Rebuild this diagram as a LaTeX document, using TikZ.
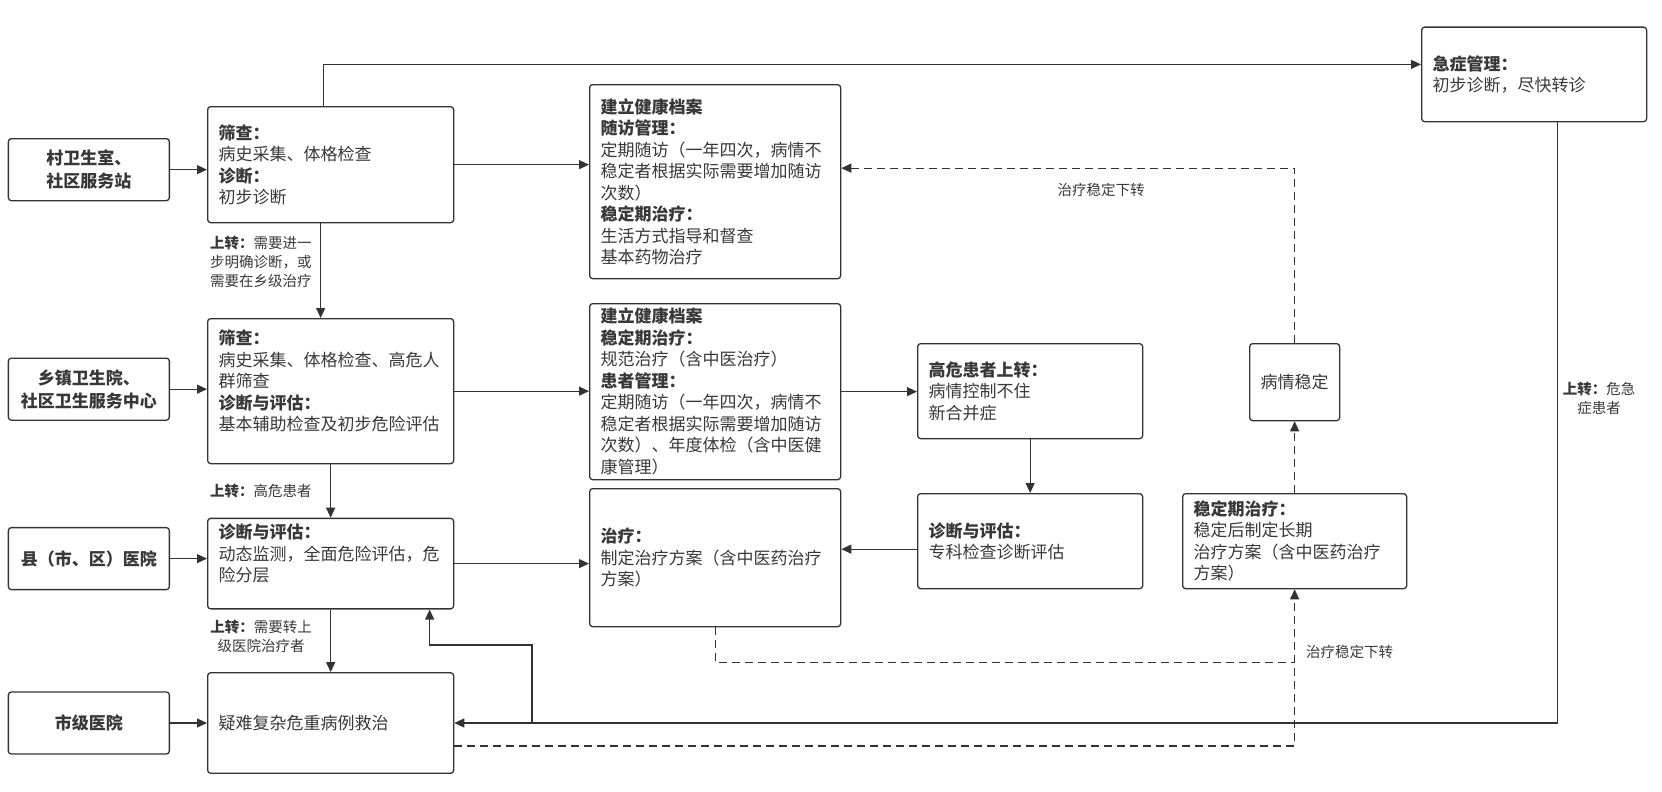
\documentclass[tikz,border=0pt]{standalone}
\usepackage{fontspec}
\setmainfont{Noto Sans CJK SC}
\usetikzlibrary{%
    arrows.meta,
    positioning
}
\definecolor{linegray}{HTML}{333333}
\definecolor{textgray}{HTML}{383838}
\tikzset{headarrow/.style = {-{Triangle[length=10pt,width=9pt]}}}
\tikzset{link/.style = {draw=linegray, line width=1.2pt, headarrow}}
\tikzset{downlink/.style = {link, dash pattern=on 8pt off 5pt}}
\tikzset{box/.style = {draw=linegray, line width=1.3pt, rounded corners=3pt, text=textgray,
    font=\fontsize{17}{21.5}\selectfont, inner xsep=11pt, inner ysep=2pt, align=left}}
\tikzset{site/.style = {box, align=center, font=\fontsize{17}{23}\selectfont\bfseries,
    minimum width=161pt, minimum height=62pt, inner xsep=2pt}}
\tikzset{note/.style = {text=textgray, font=\fontsize{14.5}{19}\selectfont, inner sep=0pt}}

\begin{document}
\begin{tikzpicture}[x=1pt, y=-1pt]
    \useasboundingbox (0,0) rectangle (1662,792);

    \node (a1) [box, anchor=north west, text width=224pt, minimum height=116pt] at (207,106)
        {\textbf{筛查：}\\病史采集、体格检查\\\textbf{诊断：}\\初步诊断};
    \node (a2) [box, below=94.7pt of a1, text width=224pt, minimum height=145pt]
        {\textbf{筛查：}\\病史采集、体格检查、高危人\\群筛查\\\textbf{诊断与评估：}\\基本辅助检查及初步危险评估\\\mbox{}};
    \node (a3) [box, below=53.4pt of a2, text width=224pt, minimum height=90.5pt]
        {\textbf{诊断与评估：}\\动态监测，全面危险评估，危\\险分层\\\mbox{}};
    \node (a4) [box, below=62.6pt of a3, text width=224pt, minimum height=100.5pt]
        {疑难复杂危重病例救治};

    \node (v1) [site, left=37pt of a1, yshift=-5pt] {村卫生室、\\社区服务站};
    \node (v2) [site, left=37pt of a2, yshift=2pt] {乡镇卫生院、\\社区卫生服务中心};
    \node (v3) [site, left=37pt of a3, yshift=5pt] {县（市、区）医院};
    \node (v4) [site, left=37pt of a4] {市级医院};

    \node (b1) [box, anchor=north west, text width=229pt, minimum height=194pt] at (589,84)
        {\textbf{建立健康档案}\\\textbf{随访管理：}\\定期随访（一年四次，病情不\\稳定者根据实际需要增加随访\\次数）\\\textbf{稳定期治疗：}\\生活方式指导和督查\\基本药物治疗};
    \node (b2) [box, anchor=north west, text width=229pt, minimum height=176pt] at (589,303)
        {\textbf{建立健康档案}\\\textbf{稳定期治疗：}\\规范治疗（含中医治疗）\\\textbf{患者管理：}\\定期随访（一年四次，病情不\\稳定者根据实际需要增加随访\\次数）、年度体检（含中医健\\康管理）};
    \node (b3) [box, anchor=north west, text width=229pt, minimum height=138pt] at (589,488)
        {\textbf{治疗：}\\制定治疗方案（含中医药治疗\\方案）};

    \node (c2) [box, anchor=north west, text width=203pt, minimum height=95pt] at (917,343)
        {\textbf{高危患者上转：}\\病情控制不住\\新合并症};
    \node (c3) [box, anchor=north west, text width=203pt, minimum height=95pt] at (917,493)
        {\textbf{诊断与评估：}\\专科检查诊断评估};

    \node (d2) [box, anchor=north west, align=center, minimum width=90pt, minimum height=77pt,
        inner xsep=2pt] at (1249,343) {病情稳定};
    \node (d3) [box, anchor=north west, text width=202pt, minimum height=95pt] at (1182,493)
        {\textbf{稳定期治疗：}\\稳定后制定长期\\治疗方案（含中医药治疗\\方案）};

    \node (jz) [box, anchor=north west, text width=203pt, minimum height=94.5pt] at (1421,26.5)
        {\textbf{急症管理：}\\初步诊断，尽快转诊};

    \node (up1) [note, anchor=west, align=left] at (210,262)
        {\textbf{上转：}需要进一\\步明确诊断，或\\需要在乡级治疗};
    \node (up2) [note, anchor=west] at (210,491) {\textbf{上转：}高危患者};
    \node (up3) [note, align=center] at (261,636.5) {\textbf{上转：}需要转上\\级医院治疗者};
    \node (up4) [note, align=center] at (1599,398) {\textbf{上转：}危急\\症患者};
    \node (dn1) [note] at (1101,190) {治疗稳定下转};
    \node (dn2) [note, anchor=west] at (1306,652) {治疗稳定下转};

    \foreach \Source/\Target in {v1/a1, v2/a2, v3/a3, v4/a4, a1/b1, a2/b2, a3/b3, b2/c2}
        \draw[link] (\Source.east) -- (\Source.east -| \Target.west);

    \draw[link] ([xshift=-10pt]a1.south) -- ([xshift=-10pt]a1.south |- a2.north);
    \foreach \Source/\Target in {a2/a3, a3/a4, c2/c3}
        \draw[link] (\Source.south) -- (\Target.north);
    \draw[link] ([yshift=-8pt]c3.west) -- ([yshift=-8pt]c3.west -| b3.east);

    \draw[link] ([xshift=-7pt]a1.north) |- ([yshift=10pt]jz.west);
    \draw[link] ([xshift=23.5pt]jz.south) |- (a4.east);
    \coordinate (brk) at (532,0 |- a4.east);
    \draw[link] (brk) -- ++(0,-78) -| ([xshift=99pt]a3.south);

    \draw[downlink] ([yshift=-23pt]a4.east) -| (d3.south);
    \draw[downlink, -] (b3.south) |- ([yshift=-73.5pt]d3.south);
    \draw[downlink] (d3.north) -- (d2.south);
    \draw[downlink] (d2.north) |- ([yshift=13.5pt]b1.east);
\end{tikzpicture}
\end{document}
